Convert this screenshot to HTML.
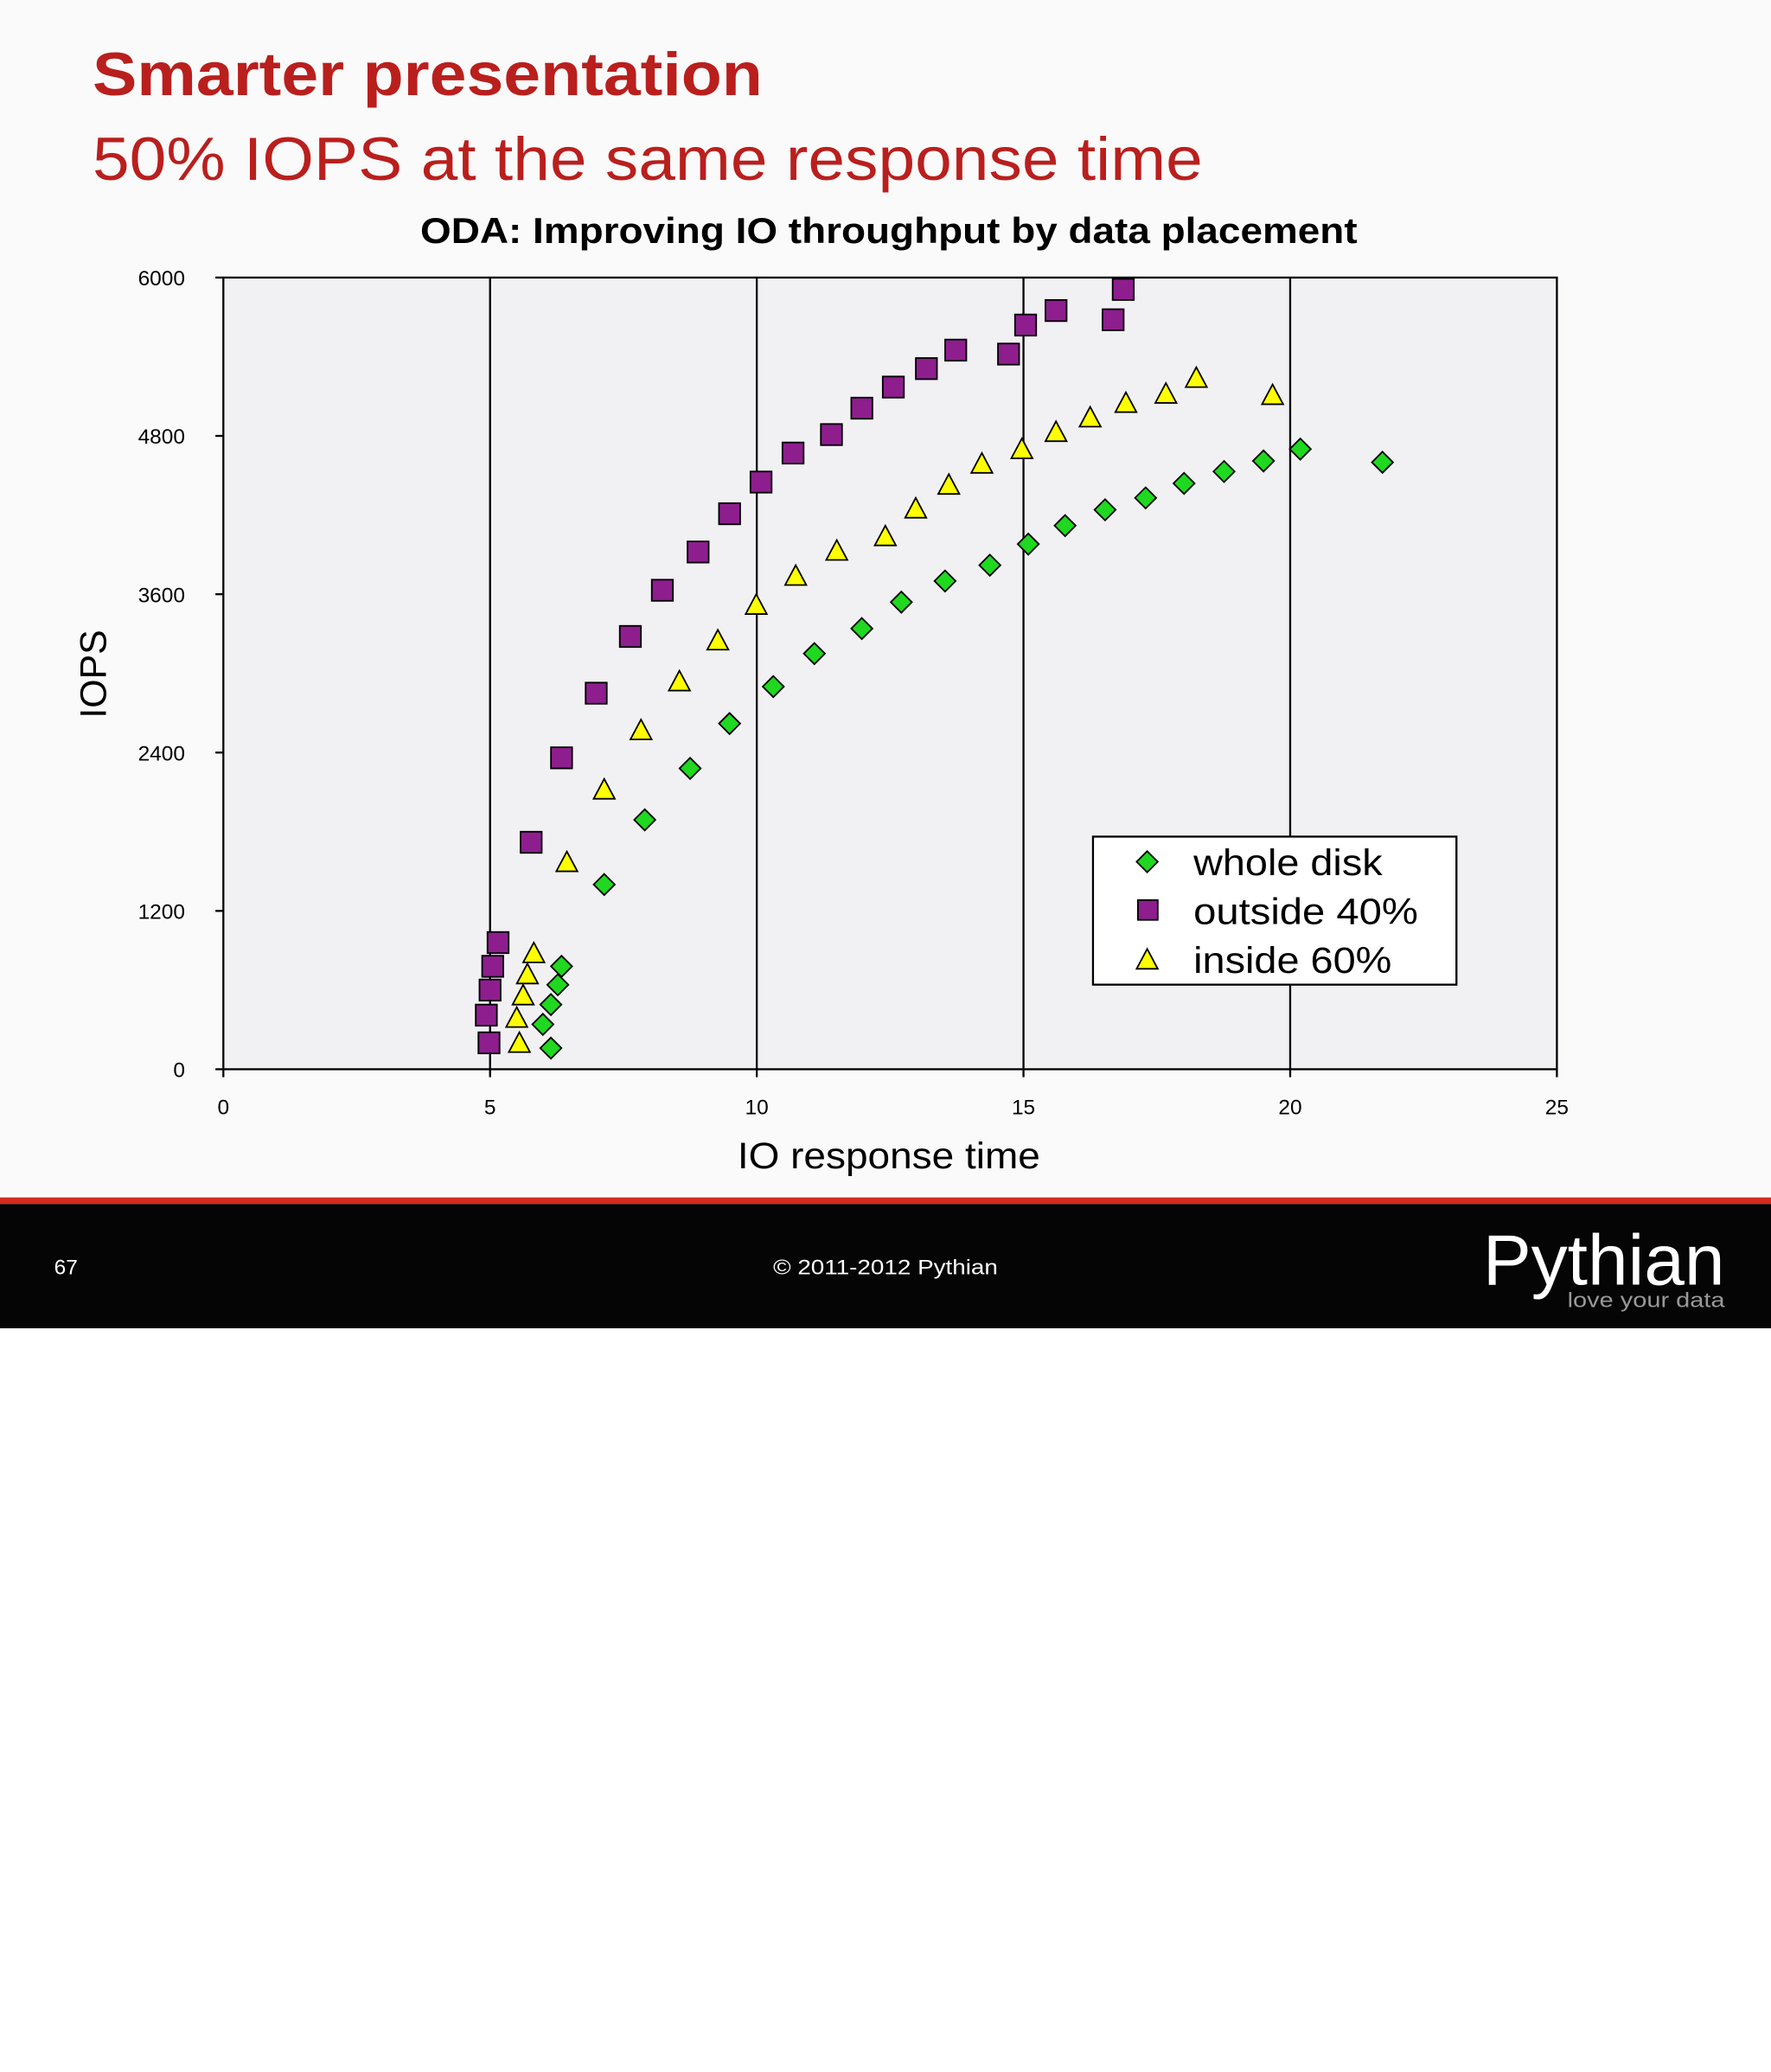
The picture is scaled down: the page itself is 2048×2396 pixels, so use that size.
<!DOCTYPE html>
<html><head><meta charset="utf-8"><style>
html,body{margin:0;padding:0;background:#fff;}
svg{display:block;}
text{font-family:"Liberation Sans",sans-serif;}
</style></head><body>
<svg id="s" width="2048" height="2396" viewBox="0 0 1340 1567.7" preserveAspectRatio="none">
<rect x="0" y="0" width="1340" height="908" fill="#fafafb"/>
<text x="70" y="72" font-size="46" font-weight="bold" fill="#b91f1d" textLength="507" lengthAdjust="spacingAndGlyphs">Smarter presentation</text>
<text x="70" y="136" font-size="46" fill="#b91f1d" textLength="840" lengthAdjust="spacingAndGlyphs">50% IOPS at the same response time</text>
<text x="318" y="184" font-size="27" font-weight="bold" fill="#000" textLength="709" lengthAdjust="spacingAndGlyphs">ODA: Improving IO throughput by data placement</text>
<rect x="169" y="210" width="1009" height="599" fill="#f1f1f4" stroke="#000" stroke-width="1.5"/>
<g id="grid"></g>
<g id="ticks"></g>
<g id="marks"></g>
<text x="80" y="510" font-size="28" text-anchor="middle" transform="rotate(-90 80 510)">IOPS</text>
<text x="558" y="884" font-size="28" textLength="229" lengthAdjust="spacingAndGlyphs">IO response time</text>
<g>
<rect x="827" y="633" width="275" height="112" fill="#fff" stroke="#000" stroke-width="1.5"/>
<polygon points="868,644 876,652 868,660 860,652" fill="#1fd81f" stroke="#000" stroke-width="1.2"/>
<text x="903" y="662" font-size="28" textLength="143" lengthAdjust="spacingAndGlyphs">whole disk</text>
<rect x="861" y="681" width="15" height="15" fill="#8e1e8e" stroke="#000" stroke-width="1.2"/>
<text x="903" y="699" font-size="28" textLength="170" lengthAdjust="spacingAndGlyphs">outside 40%</text>
<polygon points="868,718 876,733 860,733" fill="#ffff00" stroke="#000" stroke-width="1.2"/>
<text x="903" y="736" font-size="28" textLength="150" lengthAdjust="spacingAndGlyphs">inside 60%</text>
</g>
<rect x="0" y="906" width="1340" height="5" fill="#d22b1f"/>
<rect x="0" y="911" width="1340" height="94" fill="#050505"/>
<text x="41" y="964" font-size="16" fill="#fff">67</text>
<text x="585" y="964" font-size="16" fill="#fff" textLength="170" lengthAdjust="spacingAndGlyphs">© 2011-2012 Pythian</text>
<text x="1122" y="972" font-size="54" fill="#fff" textLength="183" lengthAdjust="spacingAndGlyphs">Pythian</text>
<text x="1186" y="989" font-size="16" fill="#999" textLength="119" lengthAdjust="spacingAndGlyphs">love your data</text>
</svg>
<script>
const xTicks=[0,5,10,15,20,25];
const yTicks=[0,1200,2400,3600,4800,6000];
const wholeX=[6.14,5.99,6.14,6.27,6.34,7.14,7.90,8.75,9.49,10.31,11.08,11.97,12.71,13.53,14.37,15.09,15.78,16.53,17.29,18.01,18.76,19.50,20.19,21.73];
const wholeY=[160,340,490,640,780,1400,1890,2280,2620,2900,3150,3340,3540,3700,3820,3980,4120,4240,4330,4440,4530,4610,4700,4600];
const outX=[4.98,4.93,5.00,5.05,5.15,5.77,6.34,6.99,7.63,8.23,8.90,9.49,10.08,10.68,11.40,11.97,12.56,13.18,13.73,14.72,15.04,15.61,16.68,16.87];
const outY=[200,410,600,780,960,1720,2360,2850,3280,3630,3920,4210,4450,4670,4810,5010,5170,5310,5450,5420,5640,5750,5680,5910];
const inX=[5.55,5.50,5.62,5.70,5.82,6.44,7.14,7.83,8.55,9.27,9.99,10.73,11.50,12.41,12.98,13.60,14.22,14.97,15.61,16.25,16.92,17.67,18.24,19.67];
const inY=[190,380,550,710,870,1560,2110,2560,2930,3240,3510,3730,3920,4030,4240,4420,4580,4690,4820,4930,5040,5110,5230,5100];
const NS='http://www.w3.org/2000/svg';
const X=v=>169+v/25*1009, Y=v=>809-v/6000*599;
function mk(t,a,p){const e=document.createElementNS(NS,t);for(const k in a)e.setAttribute(k,a[k]);p.appendChild(e);return e;}
const grid=document.getElementById('grid'),ticks=document.getElementById('ticks'),marks=document.getElementById('marks');
xTicks.forEach(v=>{
 if(v>0&&v<25){const l=mk('line',{x1:X(v),x2:X(v),y1:210,y2:809,stroke:'#000','stroke-width':1.5},grid);
 
 }
 const tk=mk('line',{x1:X(v),x2:X(v),y1:809,y2:815,stroke:'#000','stroke-width':1.5},ticks);
 
 
 const t=mk('text',{x:X(v),y:843,'font-size':16,'text-anchor':'middle'},ticks);t.textContent=v;
 
 
});
yTicks.forEach(v=>{
 const tk=mk('line',{x1:163,x2:169,y1:Y(v),y2:Y(v),stroke:'#000','stroke-width':1.5},ticks);
 
 
 const t=mk('text',{x:140,y:Y(v)+6,'font-size':16,'text-anchor':'end'},ticks);t.textContent=v;
 
 
});
wholeX.forEach((v,i)=>{const x=X(v),y=Y(wholeY[i]);
 const e=mk('polygon',{points:`${x},${y-8} ${x+8},${y} ${x},${y+8} ${x-8},${y}`,fill:'#1fd81f',stroke:'#000','stroke-width':1.2},marks);
 
 });
outX.forEach((v,i)=>{const x=X(v),y=Y(outY[i]);
 const e=mk('rect',{x:x-8,y:y-8,width:16,height:16,fill:'#8e1e8e',stroke:'#000','stroke-width':1.2},marks);
 
 });
inX.forEach((v,i)=>{const x=X(v),y=Y(inY[i]);
 const e=mk('polygon',{points:`${x},${y-9} ${x+8},${y+6} ${x-8},${y+6}`,fill:'#ffff00',stroke:'#000','stroke-width':1.2},marks);
 
 });
</script>
</body></html>
